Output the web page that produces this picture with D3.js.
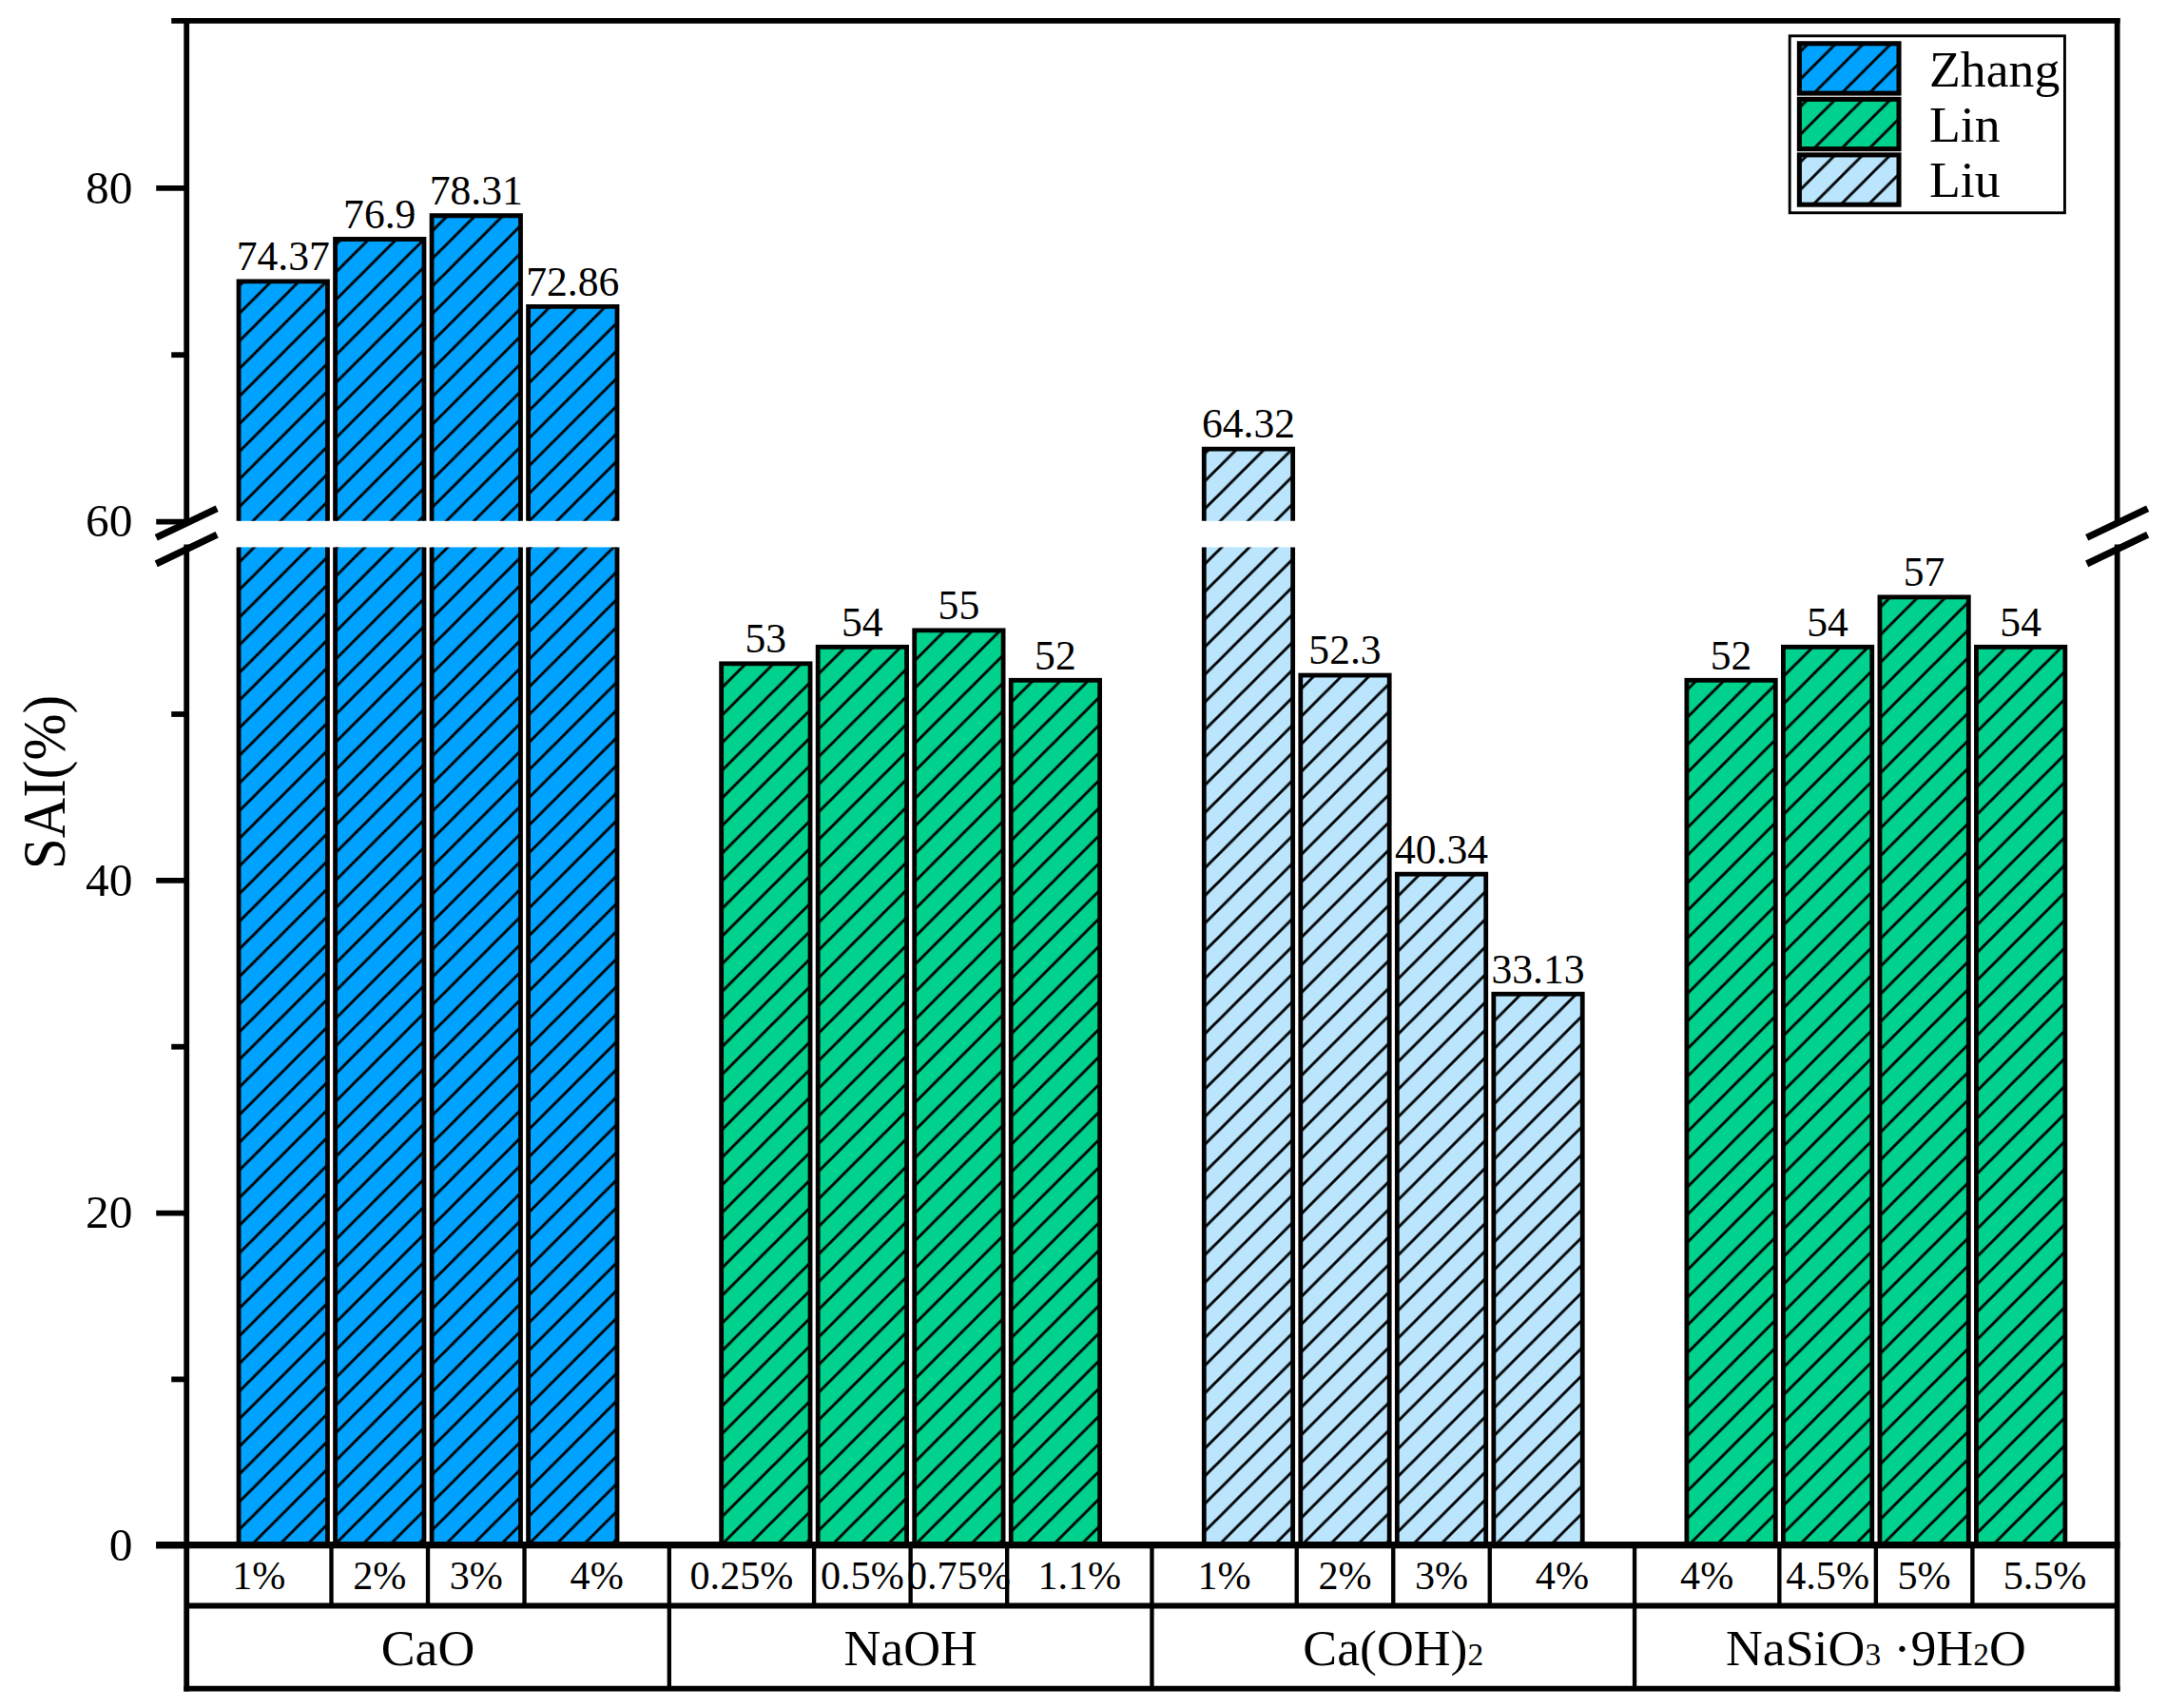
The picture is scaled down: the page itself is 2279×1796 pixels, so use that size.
<script src="https://d3js.org/d3.v7.min.js"></script>
<body style="margin:0;background:#fff">
<script>
  // data
  const groups = [
    [["CaO"]],
    [["NaOH"]],
    [["Ca(OH)"], ["2", "sub"]],
    [["NaSiO"], ["3", "sub"], [" ·9H"], ["2", "sub"], ["O"]]
  ];
  const doses = [
    ["1%", "2%", "3%", "4%"],
    ["0.25%", "0.5%", "0.75%", "1.1%"],
    ["1%", "2%", "3%", "4%"],
    ["4%", "4.5%", "5%", "5.5%"]
  ];
  const values = [
    [74.37, 76.9, 78.31, 72.86],
    [53, 54, 55, 52],
    [64.32, 52.3, 40.34, 33.13],
    [52, 54, 57, 54]
  ];
  const groupSeries = ["Zhang", "Lin", "Liu", "Lin"];
  const series = ["Zhang", "Lin", "Liu"];
  const colors = {Zhang: "#00a2ff", Lin: "#00d18d", Liu: "#bae5fc"};
  const majorTicksLow = [0, 20, 40];
  const minorTicksLow = [10, 30, 50];
  const majorTicksHigh = [60, 80];
  const minorTicksHigh = [70];

  const W = 1568, H = 1236;
  const font = "'Liberation Serif', 'Times New Roman', serif";

  var svg = d3.select("body").append("svg")
    .attr("width", 2279).attr("height", 1796)
    .attr("viewBox", "0 0 " + W + " " + H)
    .attr("preserveAspectRatio", "none")
    .style("font-family", font)
    .style("display", "block");

  const pLeft = 135, pRight = 1532, pTop = 15, base = 1118, row1 = 1162, pBottom = 1222;

  var x = d3.scaleLinear().domain([-1, 19]).range([pLeft, pRight]);
  var yLow = d3.scaleLinear().domain([0, 60]).range([base, 396]);
  var yHigh = d3.scaleLinear().domain([60, 90]).range([377, pTop]);
  const step = x(1) - x(0);
  const bw = step * 0.92;

  // patterns
  var defs = svg.append("defs");
  series.forEach(function(s) {
    var p = defs.append("pattern").attr("id", "hatch-" + s)
      .attr("patternUnits", "userSpaceOnUse").attr("width", 20).attr("height", 20);
    p.append("rect").attr("width", 20).attr("height", 20).attr("fill", colors[s]);
    p.append("path").attr("d", "M0,20L20,0M-5,5L5,-5M15,25L25,15")
      .attr("stroke", "#000").attr("stroke-width", 2);
  });

  // flatten bars
  var bars = [];
  values.forEach(function(vals, g) {
    vals.forEach(function(v, j) {
      bars.push({g: g, j: j, v: v, slot: g * 5 + j, s: groupSeries[g]});
    });
  });

  var barG = svg.append("g");
  bars.forEach(function(d) {
    var x0 = x(d.slot) - bw / 2, x1 = x(d.slot) + bw / 2;
    var fill = "url(#hatch-" + d.s + ")";
    if (d.v <= 60) {
      barG.append("rect").attr("x", x0).attr("y", yLow(d.v))
        .attr("width", bw).attr("height", base - yLow(d.v))
        .attr("fill", fill).attr("stroke", "#000").attr("stroke-width", 3.3);
    } else {
      barG.append("rect").attr("x", x0).attr("y", yLow(60))
        .attr("width", bw).attr("height", base - yLow(60)).attr("fill", fill);
      barG.append("path")
        .attr("d", "M" + x0 + "," + yLow(60) + "V" + base + "H" + x1 + "V" + yLow(60))
        .attr("fill", "none").attr("stroke", "#000").attr("stroke-width", 3.3);
      barG.append("rect").attr("x", x0).attr("y", yHigh(d.v))
        .attr("width", bw).attr("height", yHigh(60) - yHigh(d.v)).attr("fill", fill);
      barG.append("path")
        .attr("d", "M" + x0 + "," + yHigh(60) + "V" + yHigh(d.v) + "H" + x1 + "V" + yHigh(60))
        .attr("fill", "none").attr("stroke", "#000").attr("stroke-width", 3.3);
    }
    var ty = d.v <= 60 ? yLow(d.v) : yHigh(d.v);
    barG.append("text").attr("x", x(d.slot)).attr("y", ty - 8)
      .attr("text-anchor", "middle").attr("font-size", 30)
      .text(d.v);
  });

  // axes
  function drawAxis(scale, major, minor) {
    var a = svg.append("g").attr("transform", "translate(" + pLeft + ",0)")
      .call(d3.axisLeft(scale).tickValues(major).tickSize(22).tickPadding(17)
        .tickFormat(d3.format("d")));
    a.select(".domain").remove();
    a.selectAll(".tick line").attr("stroke-width", 4);
    a.selectAll(".tick text").attr("font-size", 34).style("font-family", font);
    var m = svg.append("g").attr("transform", "translate(" + pLeft + ",0)")
      .call(d3.axisLeft(scale).tickValues(minor).tickSize(11).tickFormat(""));
    m.select(".domain").remove();
    m.selectAll(".tick line").attr("stroke-width", 4);
  }
  drawAxis(yLow, majorTicksLow, minorTicksLow);
  drawAxis(yHigh, majorTicksHigh, minorTicksHigh);

  var frame = svg.append("g").attr("stroke", "#000").attr("fill", "none");
  // left and right axes with break gap
  [pLeft, pRight].forEach(function(cx) {
    frame.append("line").attr("x1", cx).attr("x2", cx).attr("y1", pTop - 2).attr("y2", 379).attr("stroke-width", 4);
    frame.append("line").attr("x1", cx).attr("x2", cx).attr("y1", 394).attr("y2", pBottom + 2).attr("stroke-width", 4);
    // break marks
    [0, 19].forEach(function(off) {
      frame.append("line")
        .attr("x1", cx - 22).attr("y1", 389 + off)
        .attr("x2", cx + 22).attr("y2", 368 + off)
        .attr("stroke-width", 5);
    });
  });
  // top
  frame.append("line").attr("x1", 124).attr("x2", pRight + 2).attr("y1", pTop).attr("y2", pTop).attr("stroke-width", 4);

  // table
  frame.append("line").attr("x1", 113).attr("x2", pRight + 2).attr("y1", base).attr("y2", base).attr("stroke-width", 5);
  frame.append("line").attr("x1", pLeft).attr("x2", pRight).attr("y1", row1).attr("y2", row1).attr("stroke-width", 4);
  frame.append("line").attr("x1", pLeft - 2).attr("x2", pRight + 2).attr("y1", pBottom).attr("y2", pBottom).attr("stroke-width", 4);

  var table = svg.append("g");
  doses.forEach(function(list, g) {
    var edges = [g * 5 - 1, g * 5 + 0.5, g * 5 + 1.5, g * 5 + 2.5, g * 5 + 4];
    list.forEach(function(lab, j) {
      var cx = (x(edges[j]) + x(edges[j + 1])) / 2;
      table.append("text").attr("x", cx).attr("y", row1 - 12)
        .attr("text-anchor", "middle").attr("font-size", 29).text(lab);
      if (j > 0) {
        frame.append("line").attr("x1", x(edges[j])).attr("x2", x(edges[j]))
          .attr("y1", base).attr("y2", row1).attr("stroke-width", 3);
      }
    });
    if (g > 0) {
      frame.append("line").attr("x1", x(g * 5 - 1)).attr("x2", x(g * 5 - 1))
        .attr("y1", base).attr("y2", pBottom).attr("stroke-width", 3);
    }
    var gx = (x(g * 5 - 1) + x(g * 5 + 4)) / 2;
    var t = table.append("text").attr("x", gx).attr("y", pBottom - 17)
      .attr("text-anchor", "middle").attr("font-size", 37);
    groups[g].forEach(function(part) {
      var ts = t.append("tspan").text(part[0]);
      if (part[1] === "sub") ts.attr("font-size", 23);
      else ts.attr("font-size", 37);
    });
  });

  // y label
  svg.append("text").attr("transform", "translate(47,566) rotate(-90) scale(0.92,1)")
    .attr("text-anchor", "middle").attr("font-size", 44).text("SAI(%)");

  // legend
  var lg = svg.append("g");
  lg.append("rect").attr("x", 1295).attr("y", 26).attr("width", 199).attr("height", 128)
    .attr("fill", "#fff").attr("stroke", "#000").attr("stroke-width", 2);
  series.forEach(function(s, i) {
    var yy = 31.5 + i * 40.3;
    lg.append("rect").attr("x", 1302).attr("y", yy).attr("width", 72).attr("height", 36)
      .attr("fill", "url(#hatch-" + s + ")").attr("stroke", "#000").attr("stroke-width", 3.5);
    lg.append("text").attr("x", 1396).attr("y", 62.4 + i * 40).attr("font-size", 37).text(s);
  });
</script>
</body>
